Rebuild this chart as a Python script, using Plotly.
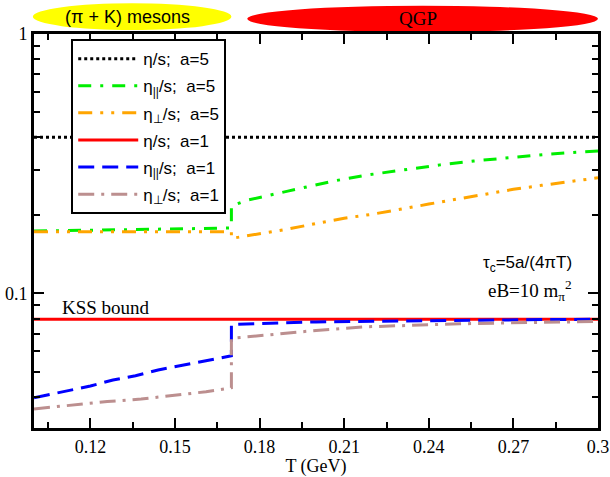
import plotly.graph_objects as go
import math

# ---------------- data ----------------
KSS = 1 / (4 * math.pi)
T_full = [0.1, 0.3]
eta_a5 = [0.4, 0.4]
eta_a1 = [KSS, KSS]

T_par5 = [0.1, 0.12, 0.14, 0.16, 0.17, 0.17, 0.175, 0.18, 0.185, 0.19, 0.195,
          0.206, 0.218, 0.231, 0.244, 0.256, 0.269, 0.282, 0.294, 0.3]
par5 = [0.174, 0.175, 0.176, 0.178, 0.179, 0.217, 0.228, 0.235, 0.241, 0.248, 0.255,
        0.271, 0.286, 0.300, 0.313, 0.324, 0.334, 0.344, 0.351, 0.354]

T_perp5 = [0.1, 0.12, 0.14, 0.16, 0.17, 0.17, 0.18, 0.19, 0.2, 0.21, 0.22, 0.23,
           0.24, 0.25, 0.26, 0.27, 0.28, 0.29, 0.3]
perp5 = [0.173, 0.173, 0.173, 0.173, 0.173, 0.163, 0.170, 0.177, 0.186, 0.195, 0.202,
         0.212, 0.221, 0.231, 0.242, 0.252, 0.261, 0.270, 0.279]

T_par1 = [0.1, 0.105, 0.113, 0.12, 0.128, 0.136, 0.144, 0.152, 0.16, 0.17, 0.17,
          0.18, 0.19, 0.2, 0.22, 0.24, 0.26, 0.28, 0.3]
par1 = [0.0396, 0.0407, 0.0426, 0.0440, 0.0464, 0.0482, 0.0507, 0.0527, 0.0548, 0.0575,
        0.0759, 0.0766, 0.0771, 0.0777, 0.0781, 0.0786, 0.0790, 0.0793, 0.0795]

T_perp1 = [0.1, 0.114, 0.126, 0.138, 0.149, 0.161, 0.17, 0.17, 0.172, 0.178, 0.187,
           0.2, 0.218, 0.236, 0.251, 0.268, 0.29, 0.3]
perp1 = [0.0359, 0.0373, 0.0383, 0.0392, 0.0404, 0.0418, 0.0433, 0.0670, 0.0675, 0.0684,
         0.0701, 0.0720, 0.0744, 0.0757, 0.0764, 0.0770, 0.0778, 0.0780]

x_major = [0.12, 0.15, 0.18, 0.21, 0.24, 0.27, 0.3]
x_labels = ["0.12", "0.15", "0.18", "0.21", "0.24", "0.27", "0.3"]
x_minor = [0.105, 0.135, 0.165, 0.195, 0.225, 0.255, 0.285]
y_major = [0.1, 1]
y_labels = ["0.1", "1"]
y_minor = [0.03, 0.04, 0.05, 0.06, 0.07, 0.08, 0.09,
           0.2, 0.3, 0.4, 0.5, 0.6, 0.7, 0.8, 0.9]

NB = "\u00a0"
series = [
    (T_full, eta_a5, f"η/s;{NB}{NB}a=5", "black", "dot"),
    (T_par5, par5, f"η<sub>||</sub>/s;{NB}{NB}a=5", "#00ee00", "13px,9px,3px,9px"),
    (T_perp5, perp5, f"η<sub>⊥</sub>/s;{NB}{NB}a=5", "orange", "14px,8px,3px,8px,3px,8px"),
    (T_full, eta_a1, f"η/s;{NB}{NB}a=1", "red", "solid"),
    (T_par1, par1, f"η<sub>||</sub>/s;{NB}{NB}a=1", "blue", "16px,8px"),
    (T_perp1, perp1, f"η<sub>⊥</sub>/s;{NB}{NB}a=1", "rosybrown", "16px,7px,3px,7px"),
]

fig = go.Figure()
for i, (xs, ys, name, col, dash) in enumerate(series):
    fig.add_trace(go.Scatter(x=xs, y=ys, mode="lines", name=name,
                             legendgroup=f"g{i}",
                             line=dict(color=col, width=3, dash=dash)))

axis_common = dict(showline=True, linecolor="black", linewidth=3, mirror="allticks",
                   ticks="inside", tickcolor="black", tickwidth=2, ticklen=10,
                   showgrid=False, zeroline=False, automargin=False,
                   tickfont=dict(family="Liberation Serif", size=18, color="black"))

fig.update_xaxes(range=[0.1, 0.3], tickvals=x_major, ticktext=x_labels,
                 minor=dict(tickvals=x_minor, ticks="inside", ticklen=6, tickwidth=2,
                            tickcolor="black"),
                 title=dict(text="T (GeV)", font=dict(family="Liberation Serif", size=18,
                                                      color="black"), standoff=2),
                 **axis_common)
fig.update_yaxes(type="log", range=[math.log10(0.0303), 0], tickvals=y_major, ticktext=y_labels,
                 minor=dict(tickvals=y_minor, ticks="inside", ticklen=6, tickwidth=2,
                            tickcolor="black"),
                 **axis_common)

fig.update_layout(
    width=610, height=477,
    margin=dict(l=34, r=12, t=34, b=49),
    paper_bgcolor="white", plot_bgcolor="white",
    showlegend=True,
    legend=dict(x=0.066, y=0.987, xanchor="left", yanchor="top",
                bgcolor="white", bordercolor="black", borderwidth=2,
                font=dict(family="Liberation Sans", size=17, color="black"),
                tracegroupgap=2, itemwidth=60, traceorder="grouped"),
    shapes=[
        dict(type="circle", xref="paper", yref="paper", x0=-0.002, x1=0.35,
             y0=1.01, y1=1.078, fillcolor="yellow", line=dict(width=0), layer="below"),
        dict(type="circle", xref="paper", yref="paper", x0=0.378, x1=1.0,
             y0=1.005, y1=1.072, fillcolor="red", line=dict(width=0), layer="below"),
    ],
    annotations=[
        dict(text="(π + K) mesons", xref="paper", yref="paper", x=0.165, y=1.044,
             xanchor="center", yanchor="middle",
             showarrow=False, font=dict(family="Liberation Sans", size=18, color="black")),
        dict(text="QGP", xref="paper", yref="paper", x=0.68, y=1.039,
             xanchor="center", yanchor="middle",
             showarrow=False, font=dict(family="Liberation Serif", size=19, color="black")),
        dict(text="KSS bound", xref="x", yref="y", x=0.1093, y=math.log10(0.0885),
             xanchor="left", yanchor="middle", showarrow=False,
             font=dict(family="Liberation Serif", size=19, color="black")),
        dict(text="τ<sub>c</sub>=5a/(4πT)", xref="x", yref="y", x=0.2915, y=math.log10(0.13),
             xanchor="right", yanchor="middle", showarrow=False,
             font=dict(family="Liberation Sans", size=17, color="black")),
        dict(text="eB=10 m<sub>π</sub><sup>2</sup>", xref="x", yref="y", x=0.2915,
             y=math.log10(0.103), xanchor="right", yanchor="middle", showarrow=False,
             font=dict(family="Liberation Serif", size=19, color="black")),
    ],
)

fig.write_html("out.html")
